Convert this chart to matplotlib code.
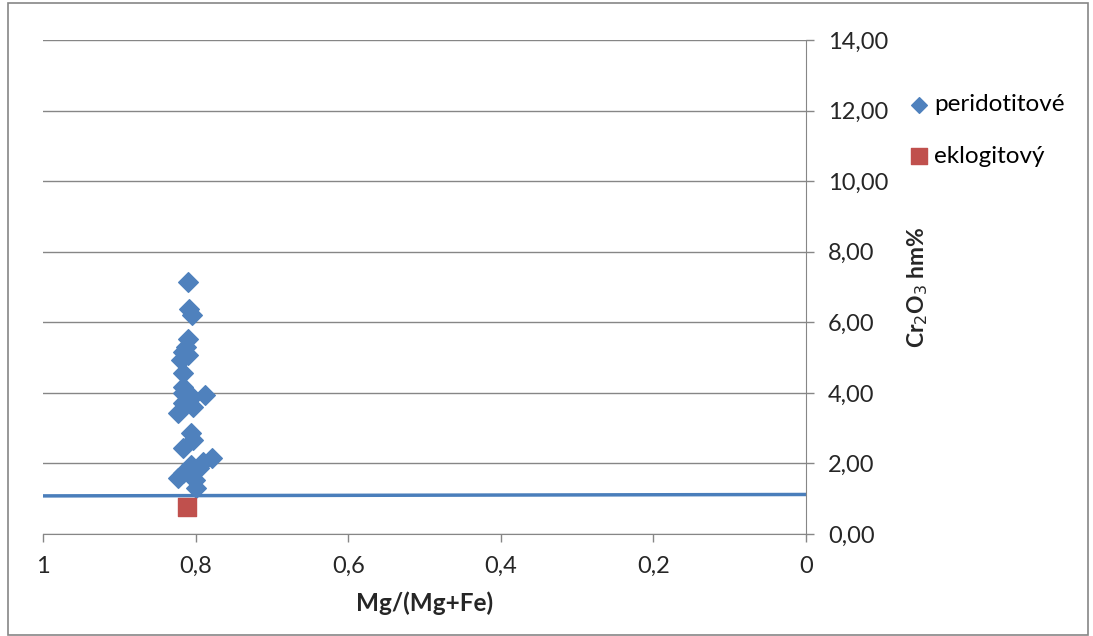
import numpy as np
import matplotlib.pyplot as plt
from matplotlib.patches import Rectangle
from matplotlib.ticker import FuncFormatter

# data
perid_x = [0.810, 0.808, 0.805, 0.810, 0.813, 0.817, 0.810, 0.819, 0.816, 0.817, 0.816, 0.788,
           0.805, 0.816, 0.803, 0.823, 0.806, 0.803, 0.816, 0.779, 0.790, 0.806, 0.795, 0.816,
           0.823, 0.801, 0.799]
perid_y = [7.15, 6.39, 6.20, 5.54, 5.31, 5.16, 5.07, 4.93, 4.55, 4.17, 3.99, 3.94,
           3.89, 3.70, 3.61, 3.42, 2.85, 2.66, 2.43, 2.14, 2.05, 1.95, 1.86, 1.72,
           1.58, 1.53, 1.29]
eklog_x = [0.811]
eklog_y = [0.76]
line_x = [1.0, 0.0]
line_y = [1.08, 1.12]

xticks = [1.0, 0.8, 0.6, 0.4, 0.2, 0.0]
yticks = [0, 2, 4, 6, 8, 10, 12, 14]

plt.rcParams['font.family'] = ['Lato', 'DejaVu Sans']

fig = plt.figure(figsize=(10.93, 6.36), dpi=100)
ax = fig.add_axes([43/1093, 1-534/636, (806-43)/1093, (534-40)/636])

# border round the whole chart
fig.patches.append(Rectangle((8/1093, 0.002), 1080/1093, 0.993, transform=fig.transFigure,
                             fill=False, edgecolor='#868686', linewidth=1.2))

ax.plot(line_x, line_y, color='#4a7ebb', linewidth=2.5, zorder=2)
ax.scatter(perid_x, perid_y, marker='D', s=100, color='#4f81bd', zorder=3, label='peridotitové')
ax.scatter(eklog_x, eklog_y, marker='s', s=185, color='#c0504d', zorder=3, label='eklogitový')

ax.set_xlim(1, 0)
ax.set_ylim(0, 14)
ax.set_xticks(xticks)
ax.set_yticks(yticks)
ax.xaxis.set_major_formatter(FuncFormatter(lambda v, p: ('%g' % v).replace('.', ',')))
ax.yaxis.set_major_formatter(FuncFormatter(lambda v, p: ('%.2f' % v).replace('.', ',')))
ax.yaxis.tick_right()
ax.yaxis.set_label_position('right')
ax.grid(axis='y', color='#868686', linewidth=1)
ax.set_axisbelow(True)
for s in ['top', 'left']:
    ax.spines[s].set_visible(False)
for s in ['right', 'bottom']:
    ax.spines[s].set_color('#868686')
ax.tick_params(axis='both', colors='#868686', labelcolor='#262626', labelsize=17, length=6, width=1)
ax.tick_params(axis='y', pad=10)
ax.tick_params(axis='x', pad=10)

ax.set_xlabel('Mg/(Mg+Fe)', fontsize=17.5, fontweight='bold', color='#262626', labelpad=10)
ax.set_ylabel('Cr$_2$O$_3$ hm%', fontsize=16.5, fontweight='bold', color='#262626', labelpad=12)

ax.legend(loc='upper left', bbox_to_anchor=(1.12, 0.91), frameon=False, fontsize=17.5,
          handletextpad=0.1, labelspacing=1.25, borderaxespad=0, handlelength=1.0, markerscale=0.8)

fig.savefig('out.png', dpi=100)
